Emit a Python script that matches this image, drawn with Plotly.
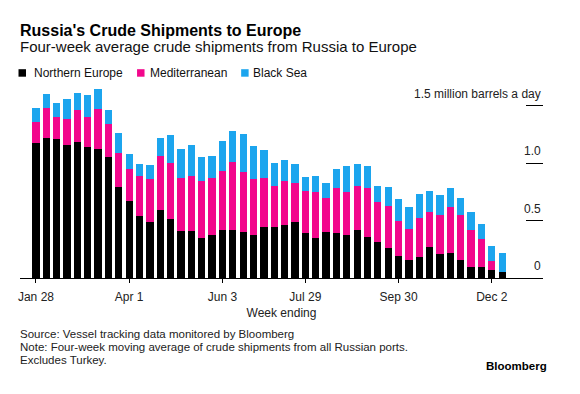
import plotly.graph_objects as go

weeks = [
    "2022-01-28", "2022-02-04", "2022-02-11", "2022-02-18", "2022-02-25",
    "2022-03-04", "2022-03-11", "2022-03-18", "2022-03-25", "2022-04-01",
    "2022-04-08", "2022-04-15", "2022-04-22", "2022-04-29", "2022-05-06",
    "2022-05-13", "2022-05-20", "2022-05-27", "2022-06-03", "2022-06-10",
    "2022-06-17", "2022-06-24", "2022-07-01", "2022-07-08", "2022-07-15",
    "2022-07-22", "2022-07-29", "2022-08-05", "2022-08-12", "2022-08-19",
    "2022-08-26", "2022-09-02", "2022-09-09", "2022-09-16", "2022-09-23",
    "2022-09-30", "2022-10-07", "2022-10-14", "2022-10-21", "2022-10-28",
    "2022-11-04", "2022-11-11", "2022-11-18", "2022-11-25", "2022-12-02",
    "2022-12-09",
]

northern_europe = [
    1.17, 1.22, 1.21, 1.16, 1.18, 1.14, 1.12, 1.05, 0.79, 0.67,
    0.54, 0.49, 0.59, 0.51, 0.41, 0.41, 0.35, 0.37, 0.42, 0.42,
    0.40, 0.37, 0.44, 0.44, 0.46, 0.49, 0.39, 0.35, 0.40, 0.39,
    0.37, 0.42, 0.36, 0.31, 0.26, 0.19, 0.16, 0.18, 0.27, 0.21,
    0.22, 0.16, 0.10, 0.10, 0.07, 0.05,
]
mediterranean = [
    0.19, 0.26, 0.19, 0.22, 0.28, 0.26, 0.35, 0.29, 0.30, 0.28,
    0.35, 0.37, 0.47, 0.49, 0.46, 0.48, 0.49, 0.50, 0.51, 0.59,
    0.52, 0.49, 0.43, 0.36, 0.38, 0.34, 0.37, 0.40, 0.30, 0.39,
    0.38, 0.38, 0.42, 0.35, 0.37, 0.31, 0.27, 0.34, 0.30, 0.34,
    0.40, 0.39, 0.32, 0.24, 0.08, 0.00,
]
black_sea = [
    0.12, 0.12, 0.12, 0.18, 0.15, 0.19, 0.17, 0.12, 0.17, 0.13,
    0.10, 0.12, 0.16, 0.24, 0.25, 0.27, 0.21, 0.19, 0.26, 0.27,
    0.33, 0.29, 0.24, 0.20, 0.19, 0.16, 0.12, 0.14, 0.13, 0.17,
    0.22, 0.19, 0.19, 0.14, 0.16, 0.19, 0.19, 0.21, 0.19, 0.17,
    0.16, 0.15, 0.15, 0.13, 0.13, 0.17,
]

series_names = ["Northern Europe", "Mediterranean", "Black Sea"]
series_colors = ["#000000", "#f2078c", "#1ca5ee"]

x_tick_vals = ["2022-01-28", "2022-04-01", "2022-06-03", "2022-07-29", "2022-09-30", "2022-12-02"]
x_tick_text = ["Jan 28", "Apr 1", "Jun 3", "Jul 29", "Sep 30", "Dec 2"]

y_tick_vals = [0, 0.5, 1.0, 1.5]
y_tick_text = ["0", "0.5", "1.0", "1.5 million barrels a day"]

FONT = "Liberation Sans, Arial, sans-serif"

# the page body has an 8px margin, so the figure starts at (8, 8) in the window
OFF = 8
W, H = 580 - OFF, 394 - OFF
PLOT_L, PLOT_R, PLOT_T, PLOT_B = 18, 543, 85, 278   # page pixels
ML, MR = PLOT_L - OFF, W - (PLOT_R - OFF)
MT, MB = PLOT_T - OFF, H - (PLOT_B - OFF)
PW = W - ML - MR
PH = H - MT - MB


def px_x(px):
    return (px - PLOT_L) / PW


def px_y(py):
    return (PLOT_B - py) / PH


fig = go.Figure()
for name, vals, col in zip(series_names, [northern_europe, mediterranean, black_sea], series_colors):
    fig.add_trace(go.Bar(x=weeks, y=vals, name=name, marker=dict(color=col, line=dict(width=0)),
                         showlegend=False))


def text_ann(text, px, py, size, color="#222222", anchor="left"):
    return dict(text=text, x=px_x(px), y=px_y(py), xref="paper", yref="paper", xanchor=anchor,
                yanchor="middle", showarrow=False, font=dict(family=FONT, size=size, color=color))


annotations = [
    text_ann("<b>Russia's Crude Shipments to Europe</b>", 16, 30, 16, "#000000"),
    text_ann("Four-week average crude shipments from Russia to Europe", 16, 47, 15, "#111111"),
    text_ann("Source: Vessel tracking data monitored by Bloomberg", 16, 334, 11.5),
    text_ann("Note: Four-week moving average of crude shipments from all Russian ports.", 16, 347, 11.5),
    text_ann("Excludes Turkey.", 16, 360, 11.5),
    text_ann("<b>Bloomberg</b>", 549, 366, 11.5, "#000000", anchor="right"),
]

# y tick labels sitting above the short right-hand dashes
for v, t in zip(y_tick_vals, y_tick_text):
    annotations.append(dict(text=t, x=1.0, y=v, xref="paper", yref="y", xanchor="right",
                            yanchor="middle", yshift=12, showarrow=False,
                            font=dict(family=FONT, size=12, color="#222222")))

# legend
shapes = []
legend_sq = [16.5, 135.5, 240]
legend_tx = [30, 146, 250]
for name, col, sx, tx in zip(series_names, series_colors, legend_sq, legend_tx):
    shapes.append(dict(type="rect", xref="paper", yref="paper", x0=px_x(sx), x1=px_x(sx + 7.5),
                       y0=px_y(76.7), y1=px_y(69.2), fillcolor=col, line=dict(width=0)))
    annotations.append(text_ann(name, tx, 73, 12, "#111111"))

fig.update_layout(
    width=W, height=H,
    margin=dict(l=ML, r=MR, t=MT, b=MB),
    barmode="stack", bargap=0.3,
    plot_bgcolor="white", paper_bgcolor="white",
    font=dict(family=FONT, size=12, color="#222222"),
    annotations=annotations, shapes=shapes,
    xaxis=dict(type="category", range=[-1.54, 48.94], tickmode="array", tickvals=x_tick_vals,
               ticktext=x_tick_text, ticks="outside", ticklen=4, tickcolor="#000000",
               ticklabelstandoff=4,
               showline=True, linecolor="#000000", linewidth=1, showgrid=False,
               tickfont=dict(family=FONT, size=12, color="#222222"),
               title=dict(text="Week ending", standoff=5, font=dict(family=FONT, size=12, color="#222222"))),
    yaxis=dict(range=[0, PH / 115.0], side="right", tickmode="array", tickvals=y_tick_vals,
               ticks="inside", ticklen=17, tickcolor="#000000", tickwidth=1,
               showticklabels=False, showgrid=False, zeroline=False, showline=False),
)

fig.write_html("out.html")
